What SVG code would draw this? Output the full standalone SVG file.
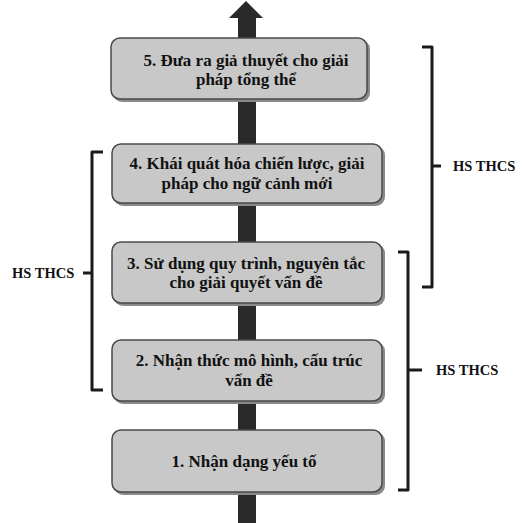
<svg xmlns="http://www.w3.org/2000/svg" width="526" height="523" viewBox="0 0 526 523">
<style>
.box{fill:#c8c8c8;stroke:#4a4a4a;stroke-width:1.5}
.shadow{fill:#8a8a8a}
.t{font-family:"Liberation Serif","Times New Roman",serif;font-weight:bold;font-size:17px;fill:#111;text-anchor:middle}
.lbl{font-family:"Liberation Serif","Times New Roman",serif;font-weight:bold;font-size:14.5px;fill:#111}
.br{fill:none;stroke:#1a1a1a;stroke-width:3;stroke-linejoin:round}
</style>
<rect width="526" height="523" fill="#ffffff"/>
<g id="arrow">
<rect x="238" y="16" width="18" height="507" fill="#2a2a2a"/>
<polygon points="246,1 229,18 263,18" fill="#2a2a2a"/>
</g>
<g id="node5">
<rect class="shadow" x="113" y="40" width="257" height="62" rx="9"/>
<rect class="box" x="111" y="38" width="256" height="61" rx="9"/>
<text class="t" x="246" y="66">5. Đưa ra giả thuyết cho giải</text>
<text class="t" x="246" y="85">pháp tổng thể</text>
</g>
<g id="node4">
<rect class="shadow" x="114" y="146" width="271" height="60" rx="9"/>
<rect class="box" x="112" y="144" width="270" height="59" rx="9"/>
<text class="t" x="247" y="169">4. Khái quát hóa chiến lược, giải</text>
<text class="t" x="247" y="189">pháp cho ngữ cảnh mới</text>
</g>
<g id="node3">
<rect class="shadow" x="114" y="244" width="271" height="62" rx="9"/>
<rect class="box" x="112" y="242" width="270" height="61" rx="9"/>
<text class="t" x="246" y="269">3. Sử dụng quy trình, nguyên tắc</text>
<text class="t" x="246" y="288">cho giải quyết vấn đề</text>
</g>
<g id="node2">
<rect class="shadow" x="114" y="342" width="271" height="62" rx="9"/>
<rect class="box" x="112" y="340" width="270" height="61" rx="9"/>
<text class="t" x="249" y="366">2. Nhận thức mô hình, cấu trúc</text>
<text class="t" x="249" y="386">vấn đề</text>
</g>
<g id="node1">
<rect class="shadow" x="114" y="432" width="271" height="63" rx="9"/>
<rect class="box" x="112" y="430" width="270" height="62" rx="9"/>
<text class="t" x="244" y="467">1. Nhận dạng yếu tố</text>
</g>
<g id="connectors">
<path class="br" d="M103,152 H92 V390 H103"/>
<path class="br" d="M92,273 H83"/>
<path class="br" d="M422,47 H432 V287 H422"/>
<path class="br" d="M432,166 H441"/>
<path class="br" d="M398,252 H408 V490 H398"/>
<path class="br" d="M408,370 H422"/>
</g>
<g id="labels">
<text class="lbl" x="12" y="278">HS THCS</text>
<text class="lbl" x="453" y="171">HS THCS</text>
<text class="lbl" x="436" y="375">HS THCS</text>
</g>
</svg>
